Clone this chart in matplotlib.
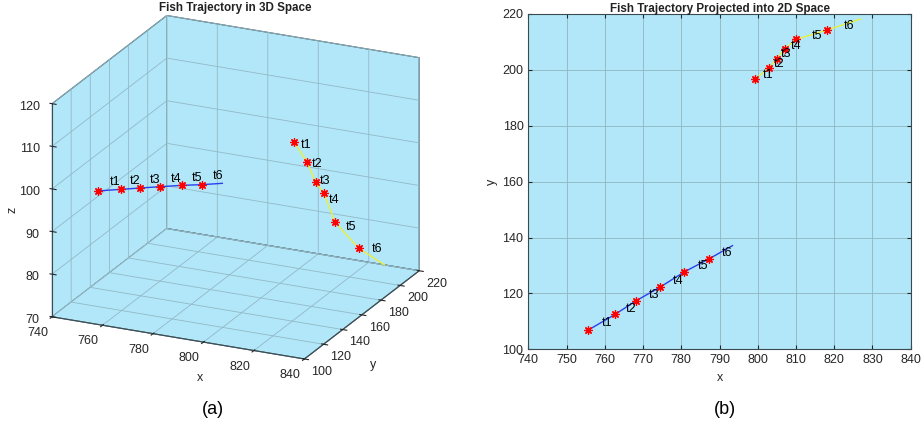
import matplotlib
matplotlib.use('Agg')
import matplotlib.pyplot as plt
import numpy as np

plt.rcParams['font.family'] = ['Liberation Sans', 'DejaVu Sans']
plt.rcParams['grid.color'] = '#93b9c6'
plt.rcParams['grid.linewidth'] = 0.6

# ---------------- data ----------------
labels = ['t1', 't2', 't3', 't4', 't5', 't6']

blue_x = [755.7, 762.7, 768.1, 774.4, 780.8, 787.3, 793.4]
blue_y = [106.9, 112.5, 117.3, 122.2, 127.7, 132.4, 137.1]
blue_z = [99.9, 100.0, 100.0, 100.1, 100.1, 100.1, 100.2]

yellow_x = [799.3, 802.9, 805.0, 807.0, 810.0, 818.2, 826.9]
yellow_y = [196.6, 200.7, 204.0, 207.4, 210.9, 214.3, 218.2]
yellow_z = [100.2, 95.2, 90.1, 87.1, 80.1, 74.1, 70.4]

blue_lab_x = [759.2, 765.5, 771.4, 777.8, 784.2, 790.5]
blue_lab_y = [109.4, 114.4, 119.4, 124.6, 129.8, 134.4]
blue_lab_z = [101.8, 101.8, 101.9, 101.9, 101.9, 102.0]

yellow_lab_x = [801.2, 804.1, 806.1, 808.6, 814.0, 822.6]
yellow_lab_y = [198.1, 202.0, 205.6, 208.7, 212.1, 215.8]
yellow_lab_z = [99.4, 94.5, 90.2, 85.4, 79.0, 74.0]

x_ticks = [740, 760, 780, 800, 820, 840]
x_ticks_2d = [740, 750, 760, 770, 780, 790, 800, 810, 820, 830, 840]
y_ticks = [100, 120, 140, 160, 180, 200, 220]
z_ticks = [70, 80, 90, 100, 110, 120]

# ---------------- style ----------------
BG = '#b1e7f9'
BLUE = '#2b3ff0'
YEL = '#e8f03a'
TICKC = '#262626'
EDGE = '#3a4a50'
marker = (8, 2, 0)

fig = plt.figure(figsize=(9.21, 4.28), dpi=100)

# ---------------- 3D panel ----------------
ax3 = fig.add_axes([-0.02, 0.085, 0.54, 0.93], projection='3d')
ax3.set_proj_type('ortho')
ax3.view_init(elev=21, azim=-65)
ax3.set_box_aspect((1.22, 1.19, 1.0), zoom=1.10)
ax3.set_facecolor('none')
for a in (ax3.xaxis, ax3.yaxis, ax3.zaxis):
    a.set_pane_color(BG)
    a.pane.set_edgecolor(EDGE)
    a.pane.set_linewidth(0.8)
    a.line.set_color(EDGE)
    a.line.set_linewidth(0.8)
    a._axinfo['tick']['color'] = EDGE
ax3.zaxis._axinfo['juggled'] = (1, 2, 0)
ax3.set_xlim(740, 840)
ax3.set_ylim(100, 220)
ax3.set_zlim(70, 120)
ax3.set_xticks(x_ticks)
ax3.set_yticks(y_ticks)
ax3.set_zticks(z_ticks)
ax3.tick_params(labelsize=9, colors=TICKC)
ax3.tick_params(axis='x', pad=-3)
ax3.tick_params(axis='y', pad=-4)
ax3.tick_params(axis='z', pad=-3)
for t in ax3.get_xticklabels():
    t.set_ha('right')
for t in ax3.get_yticklabels():
    t.set_ha('left')
for t in ax3.get_zticklabels():
    t.set_va('center_baseline')
    t.set_ha('right')

ax3.plot(blue_x, blue_y, blue_z, color=BLUE, lw=1.0)
ax3.plot(blue_x[:6], blue_y[:6], blue_z[:6], ls='none', marker=marker,
         color='red', ms=6, mew=0.9)
ax3.plot(yellow_x, yellow_y, yellow_z, color=YEL, lw=1.0)
ax3.plot(yellow_x[:6], yellow_y[:6], yellow_z[:6], ls='none', marker=marker,
         color='red', ms=6, mew=0.9)
for i, lab in enumerate(labels):
    ax3.text(blue_lab_x[i], blue_lab_y[i], blue_lab_z[i], lab, fontsize=9,
             ha='left', va='center', color='black')
    ax3.text(yellow_lab_x[i], yellow_lab_y[i], yellow_lab_z[i], lab, fontsize=9,
             ha='left', va='center', color='black')
ax3.set_xlabel('')
ax3.set_ylabel('')
ax3.set_zlabel('')
fig.text(200 / 921, 1 - 378 / 428, 'x', fontsize=9, color=TICKC,
         ha='center', va='center')
fig.text(373 / 921, 1 - 365 / 428, 'y', fontsize=9, color=TICKC,
         ha='center', va='center')
fig.text(12 / 921, 1 - 210 / 428, 'z', fontsize=9, color=TICKC,
         ha='center', va='center', rotation=90)
fig.text(235 / 921, 1 - 8 / 428, 'Fish Trajectory in 3D Space', fontsize=8.4,
         fontweight='bold', ha='center', va='center', color='#222222')
fig.text(213 / 921, 1 - 410 / 428, '(a)', fontsize=13, ha='center', va='center')

# ---------------- 2D panel ----------------
ax2 = fig.add_axes([528.3 / 921, 1 - 349.3 / 428, (910.7 - 528.3) / 921,
                    (349.3 - 14) / 428])
ax2.set_facecolor(BG)
ax2.plot(blue_x, blue_y, color=BLUE, lw=1.0, zorder=3)
ax2.plot(blue_x[:6], blue_y[:6], ls='none', marker=marker, color='red',
         ms=6, mew=0.9, zorder=4)
ax2.plot(yellow_x, yellow_y, color=YEL, lw=1.0, zorder=3)
ax2.plot(yellow_x[:6], yellow_y[:6], ls='none', marker=marker, color='red',
         ms=6, mew=0.9, zorder=4)
for i, lab in enumerate(labels):
    ax2.text(blue_lab_x[i], blue_lab_y[i], lab, fontsize=9, ha='left',
             va='center', zorder=5)
    ax2.text(yellow_lab_x[i], yellow_lab_y[i], lab, fontsize=9, ha='left',
             va='center', zorder=5)
ax2.set_xlim(740, 840)
ax2.set_ylim(100, 220)
ax2.set_xticks(x_ticks_2d)
ax2.set_yticks(y_ticks)
ax2.grid(True, color='#8fb4c0', lw=0.6)
ax2.set_axisbelow(True)
ax2.tick_params(direction='in', labelsize=9, colors=TICKC, length=3,
                top=True, right=True)
for s in ax2.spines.values():
    s.set_color(EDGE)
    s.set_linewidth(0.8)
ax2.set_xlabel('x', fontsize=9, color=TICKC, labelpad=4)
ax2.set_ylabel('y', fontsize=9, color=TICKC, labelpad=3)
ax2.set_title('Fish Trajectory Projected into 2D Space', fontsize=8.4,
              fontweight='bold', pad=1.5, color='#222222')
fig.text(725 / 921, 1 - 410 / 428, '(b)', fontsize=13, ha='center', va='center')

fig.savefig('out.png', dpi=100)
